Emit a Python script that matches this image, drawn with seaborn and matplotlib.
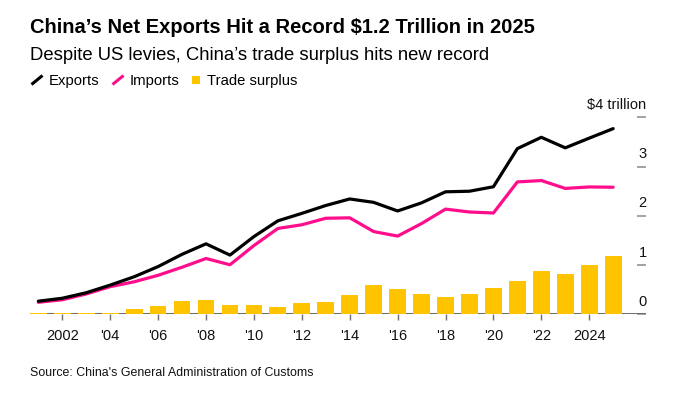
import numpy as np
import pandas as pd
import matplotlib
matplotlib.use("Agg")
import matplotlib.pyplot as plt
import matplotlib.transforms as mtransforms
from matplotlib.lines import Line2D
from matplotlib.patches import Rectangle
import seaborn as sns

# ---------------- data (USD trillion) ----------------
years = [2001, 2002, 2003, 2004, 2005, 2006, 2007, 2008, 2009, 2010, 2011, 2012, 2013,
         2014, 2015, 2016, 2017, 2018, 2019, 2020, 2021, 2022, 2023, 2024, 2025]
exports = [0.266, 0.326, 0.438, 0.593, 0.762, 0.969, 1.218, 1.431, 1.202, 1.578, 1.898,
           2.049, 2.209, 2.342, 2.273, 2.098, 2.263, 2.487, 2.499, 2.590, 3.364, 3.594,
           3.380, 3.577, 3.770]
imports = [0.244, 0.295, 0.413, 0.561, 0.660, 0.792, 0.956, 1.133, 1.006, 1.396, 1.743,
           1.818, 1.950, 1.959, 1.680, 1.588, 1.843, 2.136, 2.077, 2.057, 2.688, 2.716,
           2.556, 2.586, 2.580]
surplus = [0.023, 0.030, 0.025, 0.032, 0.102, 0.177, 0.262, 0.298, 0.196, 0.182, 0.155,
           0.231, 0.259, 0.383, 0.593, 0.510, 0.420, 0.351, 0.421, 0.535, 0.676, 0.878,
           0.823, 0.992, 1.190]
x_ticks = [2002, 2004, 2006, 2008, 2010, 2012, 2014, 2016, 2018, 2020, 2022, 2024]
x_labels = ["2002", "'04", "'06", "'08", "'10", "'12", "'14", "'16", "'18", "'20", "'22", "2024"]
y_ticks = [0, 1, 2, 3, 4]
y_labels = ["0", "1", "2", "3", "$4 trillion"]

title = "China\u2019s Net Exports Hit a Record $1.2 Trillion in 2025"
subtitle = "Despite US levies, China\u2019s trade surplus hits new record"
source = "Source: China's General Administration of Customs"

df = pd.DataFrame({"year": years, "exports": exports, "imports": imports, "surplus": surplus})

# ---------------- style ----------------
sns.set_theme(style="white")
plt.rcParams["font.family"] = ["Liberation Sans", "DejaVu Sans"]

BLACK = "#000000"
PINK = "#ff0d8c"
YELLOW = "#ffc400"
GRAY = "#6e6e6e"

W, H = 686, 397
fig = plt.figure(figsize=(W / 100, H / 100), dpi=100)
fig.patch.set_facecolor("white")


def fx(x):
    return x / W


def fy(y):
    return 1 - y / H


ax_left, ax_right, ax_bottom, ax_top = 30, 645.5, 314.3, 117.3
ax = fig.add_axes([fx(ax_left), fy(ax_bottom), (ax_right - ax_left) / W, (ax_bottom - ax_top) / H])
ax.set_facecolor("white")

ax.axhline(0, color=GRAY, linewidth=1.4, zorder=1)

sns.barplot(data=df, x="year", y="surplus", native_scale=True, width=0.7,
            color=YELLOW, saturation=1, edgecolor="none", linewidth=0, ax=ax, zorder=2)
sns.lineplot(data=df, x="year", y="imports", color=PINK, linewidth=2.3, ax=ax, zorder=3)
sns.lineplot(data=df, x="year", y="exports", color=BLACK, linewidth=2.3, ax=ax, zorder=4)

ax.set_xlim(2000.651, 2026.35)
ax.set_ylim(0, 4)
for s in ax.spines.values():
    s.set_visible(False)
ax.grid(False)
ax.set_xlabel("")
ax.set_ylabel("")

ax.set_xticks(x_ticks)
ax.set_xticklabels(x_labels, fontsize=10.5, color="#111111")
ax.tick_params(axis="x", direction="out", length=4.3, width=1, color=GRAY, pad=6,
               bottom=True)

ax.yaxis.tick_right()
ax.set_yticks(y_ticks)
ax.set_yticklabels([])
ax.tick_params(axis="y", direction="in", length=6.5, width=1.1, color="#8a8a8a",
               right=True, left=False, labelright=False)
ax.yaxis.get_major_ticks()[-1].tick2line.set_color(BLACK)

trans = mtransforms.blended_transform_factory(ax.transAxes, ax.transData)
for v, lab in zip(y_ticks, y_labels):
    off = mtransforms.offset_copy(trans, fig=fig, x=1.0, y=8.5, units="dots")
    ax.text(1.0, v, lab, transform=off, ha="right", va="baseline", fontsize=10.5,
            color="#111111", clip_on=False)

# ---------------- titles ----------------
fig.text(fx(30.5), fy(33.3), title, fontsize=14.5, fontweight="bold", color="black",
         ha="left", va="baseline")
fig.text(fx(30.5), fy(60), subtitle, fontsize=13.3, color="black", ha="left", va="baseline")

# legend
fig.add_artist(Line2D([fx(31.5), fx(42.5)], [fy(84.5), fy(75.5)], color=BLACK, lw=2.2,
                      solid_capstyle="butt", transform=fig.transFigure))
fig.text(fx(49), fy(85), "Exports", fontsize=10.7, color="black", ha="left", va="baseline")
fig.add_artist(Line2D([fx(112.5), fx(123.5)], [fy(84.5), fy(75.5)], color=PINK, lw=2.2,
                      solid_capstyle="butt", transform=fig.transFigure))
fig.text(fx(129.5), fy(85), "Imports", fontsize=10.7, color="black", ha="left", va="baseline")
fig.add_artist(Rectangle((fx(191.7), fy(84.3)), 8.6 / W, 8.6 / H, facecolor=YELLOW,
                         edgecolor="none", transform=fig.transFigure))
fig.text(fx(206.7), fy(85), "Trade surplus", fontsize=10.6, color="black", ha="left",
         va="baseline")

fig.text(fx(30), fy(375.7), source, fontsize=8.9, color="#111111", ha="left", va="baseline")

fig.savefig("out.png", dpi=100, facecolor="white")
